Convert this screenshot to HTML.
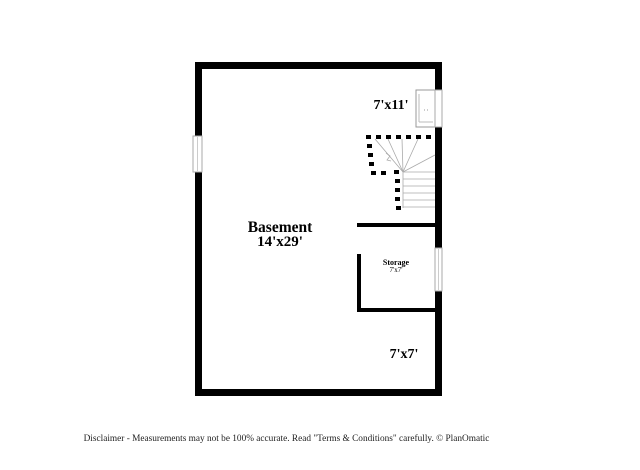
<!DOCTYPE html>
<html><head><style>
body{margin:0;background:#fff;width:640px;height:465px;overflow:hidden}
</style></head><body>
<svg width="640" height="465" viewBox="0 0 640 465" xmlns="http://www.w3.org/2000/svg">
<rect x="0" y="0" width="640" height="465" fill="#fff"/>
<rect x="198.5" y="65.5" width="240" height="327" fill="none" stroke="#000" stroke-width="7"/>
<rect x="193" y="136" width="9" height="36" fill="#fff" stroke="#aaa" stroke-width="1"/>
<line x1="197.5" y1="137" x2="197.5" y2="171" stroke="#ccc"/>
<rect x="416" y="90" width="22" height="37" fill="#fff" stroke="#999" stroke-width="1"/>
<rect x="435" y="90" width="7" height="37" fill="#fff" stroke="#aaa" stroke-width="1"/>
<line x1="419" y1="94" x2="419" y2="122" stroke="#bbb"/>
<line x1="419" y1="122" x2="433" y2="122" stroke="#bbb"/>
<line x1="424" y1="110" x2="430" y2="110" stroke="#999" stroke-dasharray="1,2"/>
<rect x="435" y="248" width="7" height="43" fill="#fff" stroke="#aaa" stroke-width="1"/>
<line x1="438.5" y1="249" x2="438.5" y2="290" stroke="#ccc"/>
<rect x="357" y="223" width="78" height="4" fill="#000"/>
<rect x="357" y="254" width="4" height="58" fill="#000"/>
<rect x="357" y="308" width="78" height="4" fill="#000"/>
<g stroke="#aaa" stroke-width="0.8">
<line x1="403" y1="172" x2="435" y2="172"/><line x1="403" y1="179" x2="435" y2="179"/>
<line x1="403" y1="186" x2="435" y2="186"/><line x1="403" y1="193" x2="435" y2="193"/>
<line x1="403" y1="200" x2="435" y2="200"/><line x1="403" y1="207" x2="435" y2="207"/>
<line x1="403" y1="172" x2="403" y2="208"/>
<line x1="403" y1="172" x2="375" y2="139"/><line x1="403" y1="172" x2="388" y2="139"/>
<line x1="403" y1="172" x2="402" y2="139"/><line x1="403" y1="172" x2="418" y2="139"/>
<line x1="403" y1="172" x2="435" y2="155"/>
<polyline points="386,153 390,156 387,160 391,161" fill="none"/>
</g>
<g fill="#000">
<rect x="366" y="135" width="5" height="4"/><rect x="376" y="135" width="5" height="4"/>
<rect x="386" y="135" width="5" height="4"/><rect x="396" y="135" width="5" height="4"/>
<rect x="406" y="135" width="5" height="4"/><rect x="416" y="135" width="5" height="4"/>
<rect x="426" y="135" width="5" height="4"/>
<rect x="367" y="144" width="5" height="4"/><rect x="368" y="153" width="5" height="4"/>
<rect x="369" y="162" width="5" height="4"/>
<rect x="371" y="171" width="5" height="4"/><rect x="381" y="171" width="5" height="4"/>
<rect x="394" y="170" width="5" height="4"/>
<rect x="395" y="179" width="5" height="4"/><rect x="395" y="188" width="5" height="4"/>
<rect x="395" y="197" width="5" height="4"/><rect x="396" y="206" width="5" height="4"/>
</g>
<g font-family="Liberation Serif, serif" font-weight="bold" fill="#000" text-anchor="middle">
<text x="280" y="232" font-size="15.5">Basement</text>
<text x="280" y="246" font-size="15">14'x29'</text>
<text x="391" y="109" font-size="14">7'x11'</text>
<text x="396" y="265" font-size="8">Storage</text>
<text x="396" y="272" font-size="7" font-weight="normal">7'x7'</text>
<text x="404" y="358" font-size="14">7'x7'</text>
</g>
<text x="286.5" y="441" font-family="Liberation Serif, serif" font-size="9.3" fill="#222" text-anchor="middle">Disclaimer - Measurements may not be 100% accurate. Read "Terms &amp; Conditions" carefully. © PlanOmatic</text>
</svg>
</body></html>
